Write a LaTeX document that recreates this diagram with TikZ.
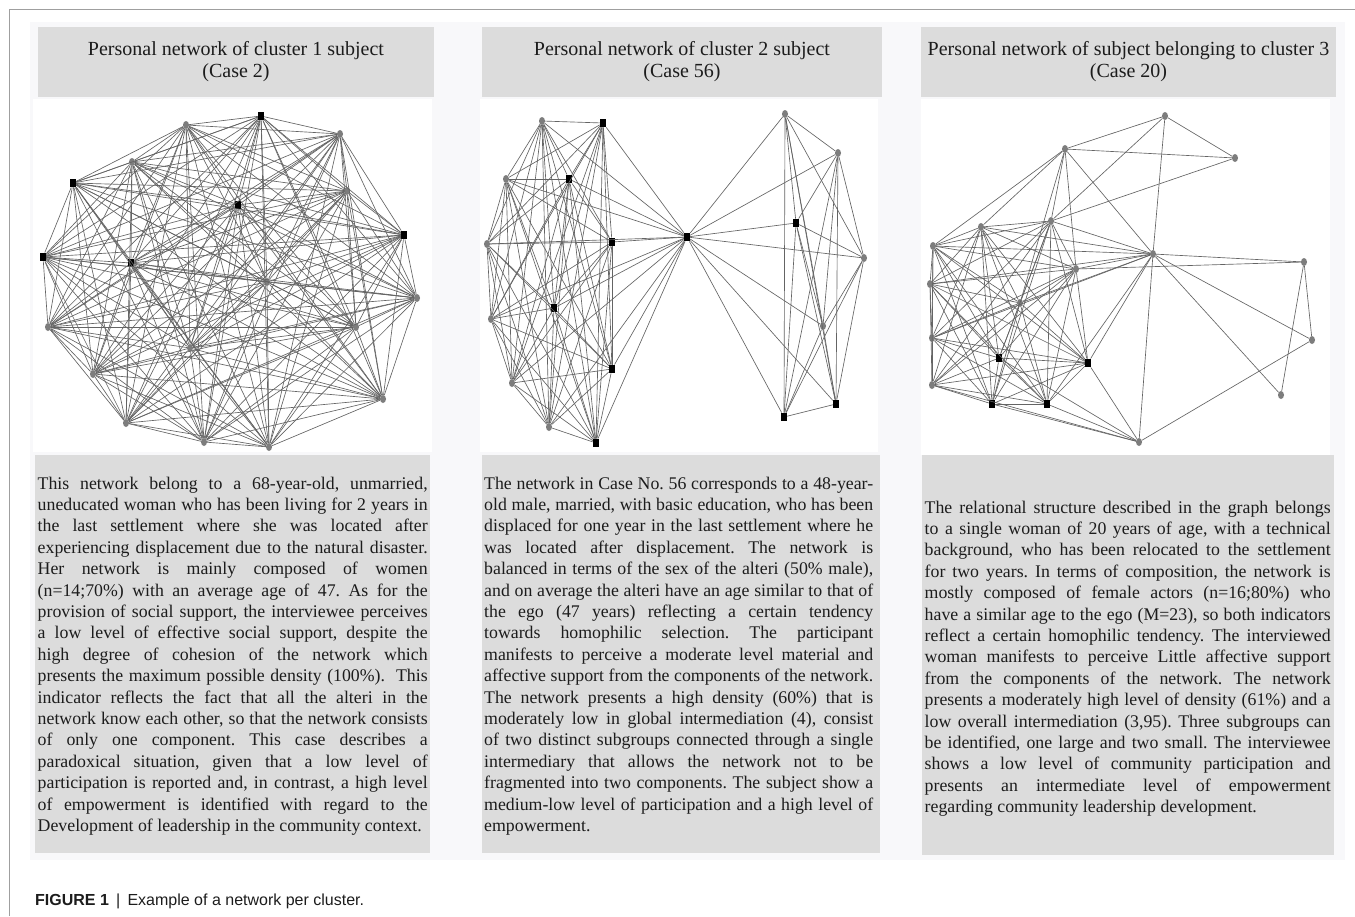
\documentclass[tikz,border=0pt]{standalone}
\usepackage{fontspec}
\setmainfont{Liberation Serif}
\newfontfamily\capfont{Liberation Sans}
\usetikzlibrary{shapes.geometric}

\definecolor{boxgray}{RGB}{220,220,220}
\definecolor{panelgray}{RGB}{248,248,250}
\definecolor{edgegray}{RGB}{100,100,100}
\definecolor{nodegray}{RGB}{125,125,125}
\definecolor{inkgray}{RGB}{28,28,28}

\tikzset{
  title_box/.style={fill=boxgray,minimum width=#1,minimum height=70pt,inner sep=0pt,align=center,text=inkgray,font={\fontsize{20}{22}\selectfont}},
  body_text/.style={anchor=base west,inner sep=0pt,text width=#1,align=justify,text=inkgray,font={\fontsize{17.8}{21.4}\selectfont\frenchspacing\tolerance=10000\hyphenpenalty=10000}},
  alter_node/.style={ellipse,fill=nodegray,minimum width=6pt,minimum height=8pt,inner sep=0pt},
  male_node/.style={rectangle,fill=black,minimum width=6pt,minimum height=8.5pt,inner sep=0pt},
  tie/.style={draw=edgegray,line width=0.65pt}
}

\begin{document}
\begin{tikzpicture}[x=1pt,y=-1pt]
\useasboundingbox (0,0) rectangle (1355,916);

% frame and panels
\draw[gray!75,line width=0.8pt] (9,916) -- (9,9) -- (1355,9);
\fill[panelgray] (30,22) rectangle (1345,860);
\fill[white] (33,99) rectangle (432,452);
\fill[white] (480,99) rectangle (878,452);
\fill[white] (921,99) rectangle (1330,455);
\fill[boxgray] (35,455) rectangle (430,853);
\fill[boxgray] (482,455) rectangle (880,853);
\fill[boxgray] (922,455) rectangle (1334,855);

% titles
\node[title_box=396pt] (t1) at (236,62) {Personal network of cluster 1 subject\\(Case 2)};
\node[title_box=400pt] (t2) at (682,62) {Personal network of cluster 2 subject\\(Case 56)};
\node[title_box=415pt] (t3) at (1128.5,62) {Personal network of subject belonging to cluster 3\\(Case 20)};

% case 2
\node[male_node] (a1) at (261,116) {};
\node[alter_node] (a2) at (186,125) {};
\node[alter_node] (a3) at (340,134) {};
\node[alter_node] (a4) at (132,162) {};
\node[male_node] (a5) at (73,183) {};
\node[alter_node] (a6) at (347,191) {};
\node[male_node] (a7) at (238,205) {};
\node[male_node] (a8) at (404,235) {};
\node[male_node] (a9) at (43,257) {};
\node[male_node] (a10) at (131,263) {};
\node[alter_node] (a11) at (267,282) {};
\node[alter_node] (a12) at (417,298) {};
\node[alter_node] (a13) at (48,327) {};
\node[alter_node] (a14) at (356,327) {};
\node[alter_node] (a15) at (190,348) {};
\node[alter_node] (a16) at (93,374) {};
\node[alter_node] (a17) at (383,399) {};
\node[alter_node] (a18) at (126,423) {};
\node[alter_node] (a19) at (204,442) {};
\node[alter_node] (a20) at (269,447) {};

\foreach \i in {1,...,19}{
  \pgfmathtruncatemacro{\k}{\i+1}
  \foreach \j in {\k,...,20} \draw[tie] (a\i) -- (a\j);
}

% case 56
\node[alter_node] (b1) at (542,121) {};
\node[male_node] (b2) at (603,123) {};
\node[alter_node] (b3) at (506,179) {};
\node[male_node] (b4) at (569,179) {};
\node[alter_node] (b5) at (487,244) {};
\node[male_node] (b6) at (612,242) {};
\node[male_node] (b7) at (554,308) {};
\node[alter_node] (b8) at (491,319) {};
\node[male_node] (b9) at (612,369) {};
\node[alter_node] (b10) at (512,383) {};
\node[alter_node] (b11) at (549,427) {};
\node[male_node] (b12) at (596,443) {};
\node[male_node] (b13) at (687,237) {};
\node[alter_node] (b14) at (785,114) {};
\node[alter_node] (b15) at (838,153) {};
\node[male_node] (b16) at (796,223) {};
\node[alter_node] (b17) at (864,258) {};
\node[alter_node] (b18) at (823,326) {};
\node[male_node] (b19) at (836,404) {};
\node[male_node] (b20) at (784,417) {};

\foreach \i in {1,...,11}{
  \pgfmathtruncatemacro{\k}{\i+1}
  \foreach \j in {\k,...,12} \draw[tie] (b\i) -- (b\j);
}
\foreach \i in {14,...,19}{
  \pgfmathtruncatemacro{\k}{\i+1}
  \foreach \j in {\k,...,20} \draw[tie] (b\i) -- (b\j);
}
\foreach \j in {1,...,12,14,15,...,20} \draw[tie] (b13) -- (b\j);

% case 20
\node[alter_node] (c1) at (1051,221) {};
\node[alter_node] (c2) at (981,227) {};
\node[alter_node] (c3) at (933,246) {};
\node[alter_node] (c4) at (1076,269) {};
\node[alter_node] (c5) at (930,284) {};
\node[alter_node] (c6) at (1020,303) {};
\node[alter_node] (c7) at (932,338) {};
\node[male_node] (c8) at (999,358) {};
\node[male_node] (c9) at (1088,363) {};
\node[alter_node] (c10) at (932,385) {};
\node[male_node] (c11) at (992,404) {};
\node[male_node] (c12) at (1047,404) {};
\node[alter_node] (c13) at (1165,116) {};
\node[alter_node] (c14) at (1065,149) {};
\node[alter_node] (c15) at (1235,158) {};
\node[alter_node] (c16) at (1153,254) {};
\node[alter_node] (c17) at (1304,262) {};
\node[alter_node] (c18) at (1312,340) {};
\node[alter_node] (c19) at (1281,395) {};
\node[alter_node] (c20) at (1139,442) {};

\foreach \i in {1,...,11}{
  \pgfmathtruncatemacro{\k}{\i+1}
  \foreach \j in {\k,...,12} \draw[tie] (c\i) -- (c\j);
}
\foreach \u/\v in {13/14,13/15,14/15,13/16,13/1,15/1,14/2,14/3,14/1,14/4,14/16,14/6,
  16/1,16/2,16/3,16/4,16/5,16/7,16/6,16/9,16/12,16/17,16/18,16/19,16/20,
  17/18,17/19,17/4,18/20,20/9,20/12,20/11,20/10,20/8}
  \draw[tie] (c\u) -- (c\v);

% descriptions
\node[body_text=390pt] (d1) at (37.5,489) {This network belong to a 68-year-old, unmarried,\linebreak
uneducated woman who has been living for 2 years in\linebreak
the last settlement where she was located after\linebreak
experiencing displacement due to the natural disaster.\linebreak
Her network is mainly composed of women\linebreak
(n=14;70\%) with an average age of 47. As for the\linebreak
provision of social support, the interviewee perceives\linebreak
a low level of effective social support, despite the\linebreak
high degree of cohesion of the network which\linebreak
presents the maximum possible density (100\%).~ This\linebreak
indicator reflects the fact that all the alteri in the\linebreak
network know each other, so that the network consists\linebreak
of only one component. This case describes a\linebreak
paradoxical situation, given that a low level of\linebreak
participation is reported and, in contrast, a high level\linebreak
of empowerment is identified with regard to the\linebreak
Development of leadership in the community context.};

\node[body_text=389pt] (d2) at (484,489) {The network in Case No. 56 corresponds to a 48-year-\linebreak
old male, married, with basic education, who has been\linebreak
displaced for one year in the last settlement where he\linebreak
was located after displacement. The network is\linebreak
balanced in terms of the sex of the alteri (50\% male),\linebreak
and on average the alteri have an age similar to that of\linebreak
the ego (47 years) reflecting a certain tendency\linebreak
towards homophilic selection. The participant\linebreak
manifests to perceive a moderate level material and\linebreak
affective support from the components of the network.\linebreak
The network presents a high density (60\%) that is\linebreak
moderately low in global intermediation (4), consist\linebreak
of two distinct subgroups connected through a single\linebreak
intermediary that allows the network not to be\linebreak
fragmented into two components. The subject show a\linebreak
medium-low level of participation and a high level of\linebreak
empowerment.};

\node[body_text=406pt] (d3) at (924.5,513) {The relational structure described in the graph belongs\linebreak
to a single woman of 20 years of age, with a technical\linebreak
background, who has been relocated to the settlement\linebreak
for two years. In terms of composition, the network is\linebreak
mostly composed of female actors (n=16;80\%) who\linebreak
have a similar age to the ego (M=23), so both indicators\linebreak
reflect a certain homophilic tendency. The interviewed\linebreak
woman manifests to perceive Little affective support\linebreak
from the components of the network. The network\linebreak
presents a moderately high level of density (61\%) and a\linebreak
low overall intermediation (3,95). Three subgroups can\linebreak
be identified, one large and two small. The interviewee\linebreak
shows a low level of community participation and\linebreak
presents an intermediate level of empowerment\linebreak
regarding community leadership development.};

% caption
\node[anchor=base west,inner sep=0pt,text=inkgray,font={\capfont\fontsize{16}{19}\selectfont}] (cap) at (35,905) {\textbf{FIGURE 1}\hspace{0.45em}|\hspace{0.45em}Example of a network per cluster.};
\end{tikzpicture}
\end{document}
